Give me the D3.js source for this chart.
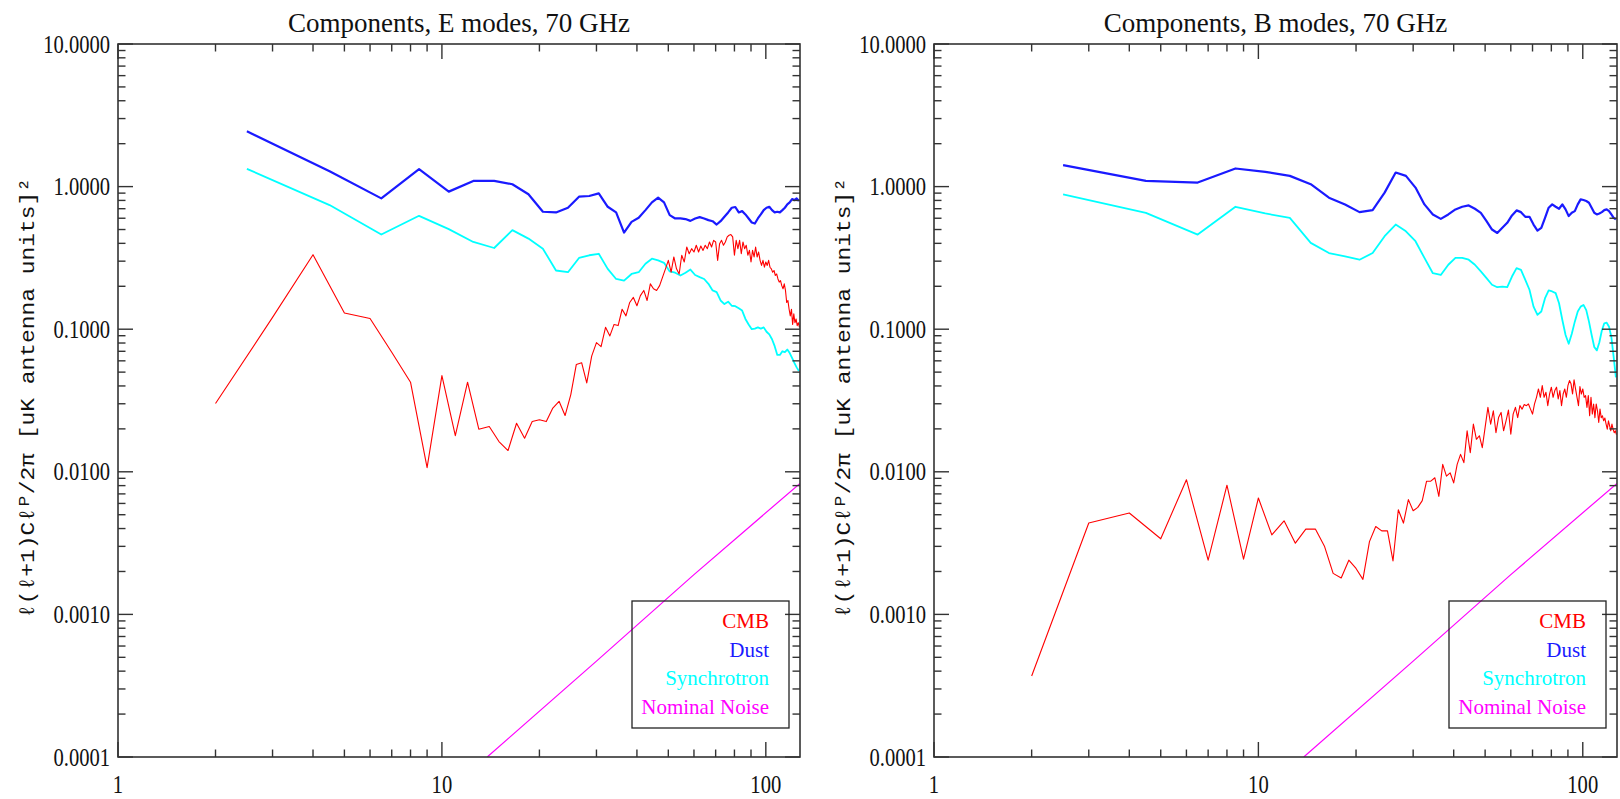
<!DOCTYPE html>
<html>
<head>
<meta charset="utf-8">
<script src="https://cdn.jsdelivr.net/npm/d3@7/dist/d3.min.js"></script>
<style>
  body { margin: 0; background: #fff; }
  text { font-family: "Liberation Serif", "DejaVu Serif", serif; }
</style>
</head>
<body>
<svg id="chart" width="1620" height="799"></svg>
<script>
// multipoles: CMB is per integer l, the foregrounds are binned by 2
const ellCmb = d3.range(2, 128);
const ellFg = d3.range(2.5, 127, 2);
const ellNoise = [13.8, 30, 60, 127.5];

// E modes
const cmbE = [
  0.0301, 0.121, 0.333, 0.130, 0.119, 0.069, 0.0425, 0.0107, 0.0473, 0.0179,
  0.0425, 0.0199, 0.0208, 0.0163, 0.0141, 0.0219, 0.0172, 0.0225, 0.0232, 0.0225,
  0.0280, 0.0312, 0.0248, 0.0348, 0.0566, 0.0582, 0.0420, 0.0648, 0.0805, 0.0755,
  0.103, 0.0897, 0.108, 0.106, 0.138, 0.124, 0.154, 0.167, 0.146, 0.172,
  0.187, 0.159, 0.208, 0.192, 0.187, 0.202, 0.232, 0.265, 0.304, 0.251,
  0.321, 0.265, 0.244, 0.330, 0.296, 0.377, 0.338, 0.367, 0.348, 0.388,
  0.348, 0.383, 0.357, 0.388, 0.367, 0.409, 0.377, 0.420, 0.409, 0.304,
  0.398, 0.420, 0.388, 0.409, 0.444, 0.456, 0.461, 0.444, 0.330, 0.420,
  0.367, 0.420, 0.338, 0.409, 0.367, 0.388, 0.330, 0.357, 0.296, 0.357,
  0.321, 0.377, 0.321, 0.348, 0.304, 0.280, 0.304, 0.272, 0.296, 0.280,
  0.304, 0.272, 0.265, 0.251, 0.258, 0.238, 0.244, 0.225, 0.214, 0.219,
  0.202, 0.192, 0.208, 0.187, 0.154, 0.159, 0.138, 0.124, 0.138, 0.108,
  0.128, 0.111, 0.118, 0.106, 0.111, 0.103
];
const dustE = [
  2.44, 1.28, 0.827, 1.325, 0.922, 1.096, 1.096, 1.039, 0.883, 0.666,
  0.659, 0.711, 0.850, 0.859, 0.897, 0.722, 0.659, 0.476, 0.566, 0.604,
  0.684, 0.775, 0.836, 0.775, 0.631, 0.598, 0.598, 0.592, 0.575, 0.598,
  0.611, 0.598, 0.582, 0.572, 0.542, 0.572, 0.614, 0.659, 0.711, 0.719,
  0.659, 0.673, 0.638, 0.598, 0.560, 0.551, 0.598, 0.638, 0.684, 0.711,
  0.722, 0.684, 0.659, 0.666, 0.659, 0.684, 0.711, 0.750, 0.775, 0.818,
  0.805, 0.827, 0.792
];
const syncE = [
  1.332, 0.742, 0.461, 0.624, 0.503, 0.409, 0.371, 0.495, 0.432, 0.367,
  0.258, 0.251, 0.316, 0.330, 0.338, 0.265, 0.225, 0.219, 0.244, 0.251,
  0.288, 0.312, 0.304, 0.292, 0.254, 0.249, 0.238, 0.249, 0.262, 0.240,
  0.232, 0.225, 0.208, 0.187, 0.182, 0.159, 0.150, 0.156, 0.146, 0.145,
  0.140, 0.135, 0.118, 0.108, 0.100, 0.101, 0.103, 0.101, 0.103, 0.096,
  0.092, 0.085, 0.076, 0.066, 0.066, 0.070, 0.069, 0.072, 0.068, 0.063,
  0.058, 0.054, 0.051
];

// B modes
const cmbB = [
  0.00037, 0.00437, 0.00514, 0.00339, 0.0088, 0.0024, 0.00805, 0.00244, 0.00655, 0.00361,
  0.00453, 0.00316, 0.00396, 0.00396, 0.00299, 0.00194, 0.0018, 0.0024, 0.0021, 0.00176,
  0.00324, 0.00413, 0.00385, 0.00385, 0.00237, 0.00542, 0.00437, 0.00638, 0.00533, 0.00563,
  0.00628, 0.00859, 0.0086, 0.00908, 0.00673, 0.01127, 0.00932, 0.00984, 0.00836, 0.01127,
  0.01325, 0.01159, 0.01936, 0.0136, 0.0216, 0.0169, 0.0179, 0.01477, 0.0205, 0.0283,
  0.0216, 0.0268, 0.0188, 0.0240, 0.0261, 0.0194, 0.0228, 0.0271, 0.01835, 0.0254,
  0.0283, 0.0240, 0.0291, 0.0275, 0.0296, 0.0291, 0.0299, 0.0275, 0.0254, 0.0299,
  0.0333, 0.0381, 0.0333, 0.0402, 0.0333, 0.0361, 0.0291, 0.0351, 0.0392, 0.0333,
  0.0371, 0.0392, 0.0324, 0.0371, 0.0291, 0.0351, 0.0381, 0.0333, 0.0402, 0.0436,
  0.0414, 0.0351, 0.0441, 0.0381, 0.0333, 0.0291, 0.0396, 0.0351, 0.0381, 0.0333,
  0.0342, 0.0283, 0.0342, 0.0247, 0.0333, 0.0254, 0.0299, 0.0240, 0.0299, 0.0268,
  0.0222, 0.0275, 0.0240, 0.0247, 0.0228, 0.0238, 0.0216, 0.0199, 0.0228, 0.0210,
  0.0194, 0.0216, 0.0199, 0.0188, 0.0194, 0.0182
];
const dustB = [
  1.414, 1.096, 1.067, 1.34, 1.269, 1.189, 1.039, 0.836, 0.750, 0.662,
  0.684, 0.907, 1.255, 1.189, 0.984, 0.750, 0.638, 0.594, 0.638, 0.692,
  0.722, 0.738, 0.699, 0.655, 0.573, 0.500, 0.473, 0.514, 0.557, 0.628,
  0.681, 0.662, 0.614, 0.614, 0.542, 0.492, 0.514, 0.604, 0.711, 0.750,
  0.722, 0.699, 0.750, 0.692, 0.621, 0.655, 0.673, 0.750, 0.814, 0.805,
  0.792, 0.771, 0.711, 0.655, 0.638, 0.648, 0.662, 0.684, 0.692, 0.673,
  0.638, 0.604, 0.588
];
const syncB = [
  0.883, 0.655, 0.461, 0.722, 0.648, 0.604, 0.403, 0.342, 0.324, 0.307,
  0.342, 0.449, 0.542, 0.486, 0.414, 0.316, 0.247, 0.240, 0.283, 0.316,
  0.316, 0.307, 0.283, 0.254, 0.228, 0.205, 0.197, 0.199, 0.197, 0.234,
  0.268, 0.261, 0.222, 0.189, 0.144, 0.126, 0.133, 0.165, 0.187, 0.184,
  0.179, 0.152, 0.116, 0.091, 0.079, 0.093, 0.113, 0.133, 0.144, 0.148,
  0.136, 0.113, 0.091, 0.075, 0.071, 0.081, 0.098, 0.110, 0.111, 0.104,
  0.088, 0.064, 0.046
];

// nominal noise, same in both panels
const noise = [0.0001, 0.00047, 0.0019, 0.0083];

const legendNames = ['CMB', 'Dust', 'Synchrotron', 'Nominal Noise'];
const legendColors = ['#ff0000', '#1a1aff', '#00ffff', '#ff00ff'];
const xTickValues = [1, 10, 100];
const yTickValues = [0.0001, 0.001, 0.01, 0.1, 1, 10];
const yLabel = 'ℓ(ℓ+1)Cℓᴾ/2π [uK antenna units]²';

const plotTop = 44;
const plotBottom = 757;
const svg = d3.select('#chart');
svg.append('rect').attr('width', 1620).attr('height', 799).attr('fill', '#fff');

// digits in the original font are narrow and tall, so squeeze labels a bit
function labelWidth(s) {
  let w = 0;
  for (const c of s) w += c === '.' ? 5 : 10.3;
  return w;
}

function drawPanel(p) {
  const x = d3.scaleLog().domain([1, 127.5]).range([p.left, p.right]);
  const y = d3.scaleLog().domain([1e-4, 10]).range([plotBottom, plotTop]);
  const g = svg.append('g');

  g.append('clipPath')
    .attr('id', p.id + 'Clip')
    .append('rect')
    .attr('x', p.left)
    .attr('y', plotTop)
    .attr('width', p.right - p.left)
    .attr('height', plotBottom - plotTop);

  const line = d3
    .line()
    .x(function (d) {
      return x(d[0]);
    })
    .y(function (d) {
      return y(d[1]);
    });

  const curves = g.append('g').attr('clip-path', 'url(#' + p.id + 'Clip)');
  p.series.forEach(function (s) {
    curves
      .append('path')
      .datum(d3.zip(s.ell, s.values))
      .attr('d', line)
      .attr('fill', 'none')
      .attr('stroke', s.color)
      .attr('stroke-width', s.width)
      .attr('stroke-linejoin', 'round');
  });

  // frame
  g.append('rect')
    .attr('x', p.left)
    .attr('y', plotTop)
    .attr('width', p.right - p.left)
    .attr('height', plotBottom - plotTop)
    .attr('fill', 'none')
    .attr('stroke', '#333')
    .attr('stroke-width', 1.6);

  // x ticks, bottom and top
  const xMinor = [];
  [1, 10, 100].forEach(function (e) {
    for (let k = 2; k <= 9; k++) if (k * e <= 127.5) xMinor.push(k * e);
  });
  const ticks = g.append('g').attr('stroke', '#333').attr('stroke-width', 1.4);
  xMinor.concat(xTickValues).forEach(function (v) {
    const len = xTickValues.includes(v) ? 15 : 7.5;
    const px = x(v);
    ticks.append('line').attr('x1', px).attr('x2', px).attr('y1', plotBottom).attr('y2', plotBottom - len);
    ticks.append('line').attr('x1', px).attr('x2', px).attr('y1', plotTop).attr('y2', plotTop + len);
  });

  // y ticks, left and right
  const yMinor = [];
  [1e-4, 1e-3, 1e-2, 1e-1, 1].forEach(function (e) {
    for (let k = 2; k <= 9; k++) yMinor.push(k * e);
  });
  yMinor.concat(yTickValues).forEach(function (v) {
    const len = yTickValues.includes(v) ? 15 : 7.5;
    const py = y(v);
    ticks.append('line').attr('x1', p.left).attr('x2', p.left + len).attr('y1', py).attr('y2', py);
    ticks.append('line').attr('x1', p.right).attr('x2', p.right - len).attr('y1', py).attr('y2', py);
  });

  // tick labels
  xTickValues.forEach(function (v) {
    const s = String(v);
    g.append('text')
      .attr('x', x(v))
      .attr('y', 793)
      .attr('text-anchor', 'middle')
      .attr('font-size', 25)
      .attr('textLength', labelWidth(s))
      .attr('lengthAdjust', 'spacingAndGlyphs')
      .attr('fill', '#111')
      .text(s);
  });
  const fmt = d3.format('.4f');
  yTickValues.forEach(function (v) {
    const s = fmt(v);
    g.append('text')
      .attr('x', p.left - 8)
      .attr('y', y(v) + 8.5)
      .attr('text-anchor', 'end')
      .attr('font-size', 25)
      .attr('textLength', labelWidth(s))
      .attr('lengthAdjust', 'spacingAndGlyphs')
      .attr('fill', '#111')
      .text(s);
  });

  // title
  g.append('text')
    .attr('x', (p.left + p.right) / 2)
    .attr('y', 32)
    .attr('text-anchor', 'middle')
    .attr('font-size', 27)
    .attr('fill', '#111')
    .text(p.title);

  // y axis label
  g.append('text')
    .attr('transform', 'translate(' + (p.left - 84) + ',398) rotate(-90)')
    .attr('text-anchor', 'middle')
    .attr('font-size', 21)
    .attr('textLength', 440)
    .attr('lengthAdjust', 'spacingAndGlyphs')
    .style('font-family', '"Liberation Mono", "DejaVu Sans Mono", monospace')
    .attr('fill', '#111')
    .text(yLabel);

  // legend box
  const lg = g.append('g');
  lg.append('rect')
    .attr('x', p.right - 168)
    .attr('y', 601)
    .attr('width', 157)
    .attr('height', 127)
    .attr('fill', 'none')
    .attr('stroke', '#222')
    .attr('stroke-width', 1.3);
  legendNames.forEach(function (name, i) {
    lg.append('text')
      .attr('x', p.right - 31)
      .attr('y', 628 + i * 28.7)
      .attr('text-anchor', 'end')
      .attr('font-size', 21)
      .attr('fill', legendColors[i])
      .text(name);
  });
}

drawPanel({
  id: 'eModes',
  left: 118,
  right: 800,
  title: 'Components, E modes, 70 GHz',
  series: [
    { ell: ellNoise, values: noise, color: '#ff00ff', width: 1.2 },
    { ell: ellFg, values: syncE, color: '#00ffff', width: 1.8 },
    { ell: ellFg, values: dustE, color: '#1a1aff', width: 2.2 },
    { ell: ellCmb, values: cmbE, color: '#ff0000', width: 1.1 },
  ],
});

drawPanel({
  id: 'bModes',
  left: 934,
  right: 1617,
  title: 'Components, B modes, 70 GHz',
  series: [
    { ell: ellNoise, values: noise, color: '#ff00ff', width: 1.2 },
    { ell: ellFg, values: syncB, color: '#00ffff', width: 1.8 },
    { ell: ellFg, values: dustB, color: '#1a1aff', width: 2.2 },
    { ell: ellCmb, values: cmbB, color: '#ff0000', width: 1.1 },
  ],
});
</script>
</body>
</html>
